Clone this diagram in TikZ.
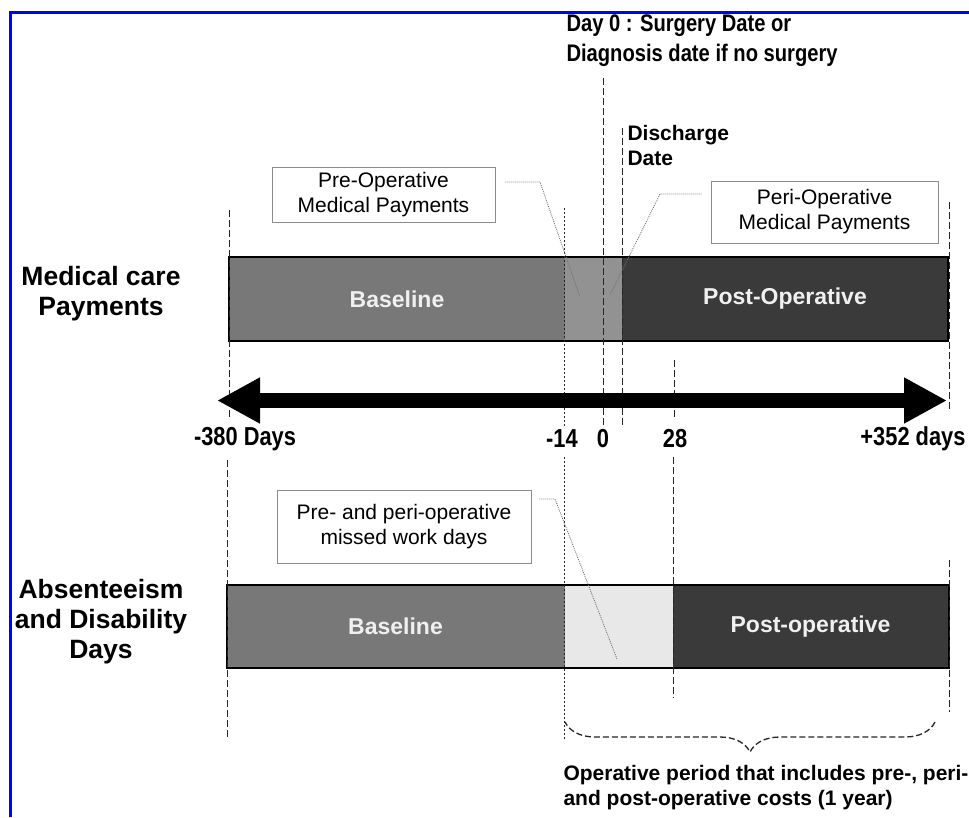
\documentclass[tikz,border=0pt]{standalone}
\usepackage{fontspec}
\setmainfont{Liberation Sans}
\newfontfamily\narrowfont{Liberation Sans}[FakeStretch=0.84]
\usepackage{xcolor}
\usepackage{tikz}
\usetikzlibrary{calc,arrows.meta,decorations.pathreplacing}

\definecolor{frameblue}{RGB}{0,0,255}
\definecolor{basegray}{RGB}{120,120,120}
\definecolor{pregray}{RGB}{146,146,146}
\definecolor{postgray}{RGB}{58,58,58}
\definecolor{missgray}{RGB}{232,232,232}

\begin{document}
\begin{tikzpicture}[x=1pt, y=-1pt,
    seg/.style={inner sep=0pt, outer sep=0pt, minimum height=84pt, text=white!94!black,
        font=\bfseries\fontsize{23}{27}\selectfont},
    callout/.style={draw=black!45, fill=white, line width=0.8pt, align=center, inner sep=0pt,
        font=\fontsize{21}{25}\selectfont},
    leader/.style={black!55, line width=0.8pt, dash pattern=on 1pt off 1pt},
    guide/.style={black!85, line width=0.9pt, dash pattern=on 7pt off 3pt},
    guidedot/.style={black!85, line width=1pt, dash pattern=on 2pt off 2pt},
    daylbl/.style={font=\narrowfont\bfseries\fontsize{26}{30}\selectfont},
    rowlbl/.style={align=center, font=\bfseries\fontsize{26.5}{30}\selectfont}]

    \useasboundingbox (0,0) rectangle (969,817);
    \fill[white] (0,0) rectangle (969,817);

    %frame
    \draw[frameblue, line width=3pt] (969,12) -- (10,12) -- (10,817);

    %row titles
    \node[rowlbl] (medical) at (101,294) {Medical care\\Payments};
    \node[rowlbl] (absent) at (101,622) {Absenteeism\\and Disability\\Days};

    %medical payments bar
    \node[seg, fill=basegray, minimum width=336pt] (topbase) at (397,299) {Baseline};
    \node[seg, fill=pregray, minimum width=57pt, anchor=west] (toppre) at (topbase.east) {};
    \node[seg, fill=postgray, minimum width=326pt, anchor=west] (toppost) at (toppre.east) {Post-Operative};
    \draw[line width=2pt] (topbase.north west) rectangle (toppost.south east);

    %missed days bar
    \node[seg, fill=basegray, minimum width=338pt, minimum height=83pt] (botbase) at (395.5,626.5) {Baseline};
    \node[seg, fill=missgray, minimum width=108pt, minimum height=83pt, anchor=west] (botmiss) at (botbase.east) {};
    \node[seg, fill=postgray, minimum width=276pt, minimum height=83pt, anchor=west] (botpost) at (botmiss.east) {Post-operative};
    \draw[line width=2pt] (botbase.north west) rectangle (botpost.south east);

    %guide lines
    \foreach \x/\ya/\yb in {229/210/420, 227/460/740, 603/78/425, 622/128/428,
        674/360/418, 673/457/698, 949/202/412, 949/560/712}
    \draw[guide] (\x,\ya) -- (\x,\yb);
    \foreach \ya/\yb in {208/428, 457/740}
    \draw[guidedot] (564,\ya) -- (564,\yb);

    %time axis
    \coordinate (axstart) at (217,400.5);
    \coordinate (axend) at (947,400.5);
    \draw[line width=15pt, {Triangle[length=43pt,width=43pt]}-{Triangle[length=43pt,width=43pt]}]
        (axstart) -- (axend);

    %axis labels
    \foreach \i/\j in {245/-380 Days, 562/-14, 603/0, 675/28, 913/+352 days}{
        \node[daylbl] at (\i,439) {\j};
    }

    %event labels
    \node[daylbl, anchor=west, align=left, font=\narrowfont\bfseries\fontsize{24}{30}\selectfont]
        (day0) at (563,41) {Day 0 : Surgery Date or\\Diagnosis date if no surgery};
    \node[anchor=west, align=left, font=\bfseries\fontsize{21}{25}\selectfont]
        (discharge) at (624,145) {Discharge\\Date};

    %call-out boxes
    \node[callout, minimum width=223pt, minimum height=55pt] (pre) at (383.5,195) {Pre-Operative\\Medical Payments};
    \node[callout, minimum width=227pt, minimum height=62pt] (peri) at (824.5,212) {Peri-Operative\\Medical Payments};
    \node[callout, minimum width=254pt, minimum height=73pt] (miss) at (404,526.5) {Pre- and peri-operative\\missed work days};

    \coordinate (preknee) at (540,182);
    \coordinate (pretip) at (580,297);
    \coordinate (periknee) at (660,194);
    \coordinate (peritip) at (610,295);
    \coordinate (missknee) at (555,499);
    \coordinate (misstip) at (617,659);
    \draw[leader] ([shift={(10,-13)}]pre.east) -- (preknee) -- (pretip);
    \draw[leader] ([shift={(-9,-18)}]peri.west) -- (periknee) -- (peritip);
    \draw[leader] ([shift={(8,-27.5)}]miss.east) -- (missknee) -- (misstip);

    %operative period
    \draw[black!85, line width=1.3pt, dash pattern=on 6pt off 3pt, decorate,
        decoration={brace, amplitude=30pt}] (935,722) -- (565,722);
    \node[anchor=west, align=left, font=\bfseries\fontsize{21}{25}\selectfont]
        (oper) at (560,788) {Operative period that includes pre-, peri-\\and post-operative costs (1 year)};

\end{tikzpicture}
\end{document}
